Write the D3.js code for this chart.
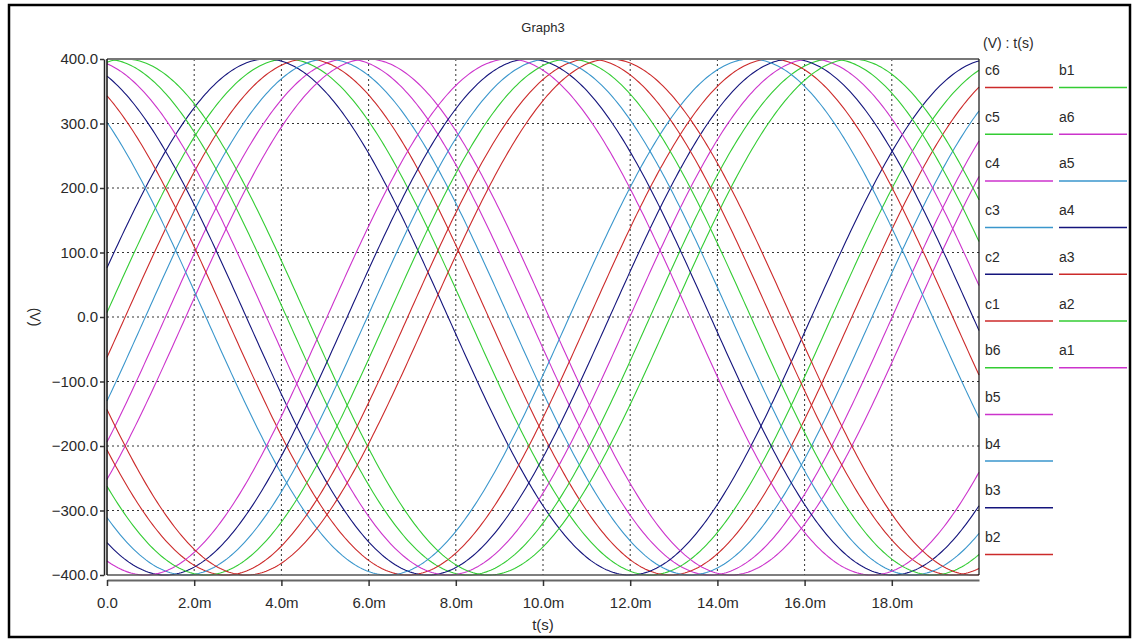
<!DOCTYPE html>
<html>
<head>
<meta charset="utf-8">
<script src="https://cdn.jsdelivr.net/npm/d3@7"></script>
<style>
  body { margin: 0; background: #fff; }
  text { font-family: "Liberation Sans", Arial, sans-serif; fill: #2a2a2a; }
</style>
</head>
<body>
<div id="container"></div>
<script>
// series names in plot order, and the phase (deg at t=0)
var seriesNames = ["a1","a2","a3","a4","a5","a6","b1","b2","b3","b4","b5","b6","c1","c2","c3","c4","c5","c6"];
var seriesPhaseDeg = [331, 1, 351, 11, 341, 321, 91, 121, 111, 131, 101, 81, 211, 241, 231, 251, 221, 201];
var amplitude = 400;   // V
var freqHz = 60;
var xTicks = [0, 0.002, 0.004, 0.006, 0.008, 0.010, 0.012, 0.014, 0.016, 0.018];
var yTicks = [-400, -300, -200, -100, 0, 100, 200, 300, 400];
var palette = ["#cc33cc", "#33cc33", "#cc2a2a", "#14147c", "#3a96cc"];

var W = 1133, H = 640;
var svg = d3.select("#container").append("svg")
            .attr("width", W)
            .attr("height", H);

var x = d3.scaleLinear().domain([0, 0.02]).range([107, 979]);
var y = d3.scaleLinear().domain([-400, 400]).range([575, 59]);
var color = d3.scaleOrdinal().domain(seriesNames).range(palette);

// outer frame
svg.append("rect")
   .attr("x", 9).attr("y", 5)
   .attr("width", 1121).attr("height", 632)
   .attr("fill", "none").attr("stroke", "#000").attr("stroke-width", 2.5);

// grid
svg.append("g").selectAll("line")
   .data(xTicks.filter(function(d) { return d > 0; }))
   .enter().append("line")
   .attr("x1", function(d) { return x(d); }).attr("x2", function(d) { return x(d); })
   .attr("y1", y(400)).attr("y2", y(-400))
   .attr("stroke", "#333").attr("stroke-dasharray", "2,3");
svg.append("g").selectAll("line")
   .data(yTicks.filter(function(d) { return d > -400 && d < 400; }))
   .enter().append("line")
   .attr("x1", x(0)).attr("x2", x(0.02))
   .attr("y1", function(d) { return y(d); }).attr("y2", function(d) { return y(d); })
   .attr("stroke", "#333").attr("stroke-dasharray", "2,3");

// curves
var times = d3.range(0, 0.02 + 1e-9, 0.00005);
var series = seriesNames.map(function(name, i) {
  return { name: name, values: times.map(function(t) {
    return { t: t, v: amplitude * Math.sin(2 * Math.PI * freqHz * t + seriesPhaseDeg[i] * Math.PI / 180) };
  }) };
});
var line = d3.line()
  .x(function(d) { return x(d.t); })
  .y(function(d) { return y(d.v); });
svg.append("g").selectAll("path")
   .data(series)
   .enter().append("path")
   .attr("d", function(d) { return line(d.values); })
   .attr("fill", "none")
   .attr("stroke", function(d) { return color(d.name); })
   .attr("stroke-width", 1.1);

// plot borders
svg.append("line").attr("x1", 107).attr("x2", 979).attr("y1", 59).attr("y2", 59)
   .attr("stroke", "#777").attr("stroke-width", 2);
svg.append("line").attr("x1", 107).attr("x2", 979).attr("y1", 575).attr("y2", 575)
   .attr("stroke", "#555").attr("stroke-width", 1.5);
svg.append("line").attr("x1", 107).attr("x2", 107).attr("y1", 59).attr("y2", 575)
   .attr("stroke", "#111").attr("stroke-width", 1.5);
svg.append("line").attr("x1", 979).attr("x2", 979).attr("y1", 59).attr("y2", 575)
   .attr("stroke", "#111").attr("stroke-width", 1.2);

// axes
var fmtX = function(d) { return d === 0 ? "0.0" : d3.format(".1f")(d * 1000) + "m"; };
var xAxis = svg.append("g")
   .attr("transform", "translate(0,580)")
   .call(d3.axisBottom(x).tickValues(xTicks).tickFormat(fmtX).tickSize(6).tickSizeOuter(0).tickPadding(11));
xAxis.select(".domain").attr("stroke", "#666").attr("stroke-width", 2);
xAxis.selectAll(".tick line").attr("stroke", "#333").attr("stroke-width", 1.5);
xAxis.selectAll("text").style("font-size", "15px").attr("fill", "#2a2a2a");

var yAxis = svg.append("g")
   .attr("transform", "translate(104,0)")
   .call(d3.axisLeft(y).tickValues(yTicks).tickFormat(d3.format(".1f")).tickSize(4).tickSizeOuter(0).tickPadding(2));
yAxis.select(".domain").attr("stroke", "#222").attr("stroke-width", 1.5);
yAxis.selectAll(".tick line").attr("stroke", "#333").attr("stroke-width", 1.5);
yAxis.selectAll("text").style("font-size", "15px").attr("fill", "#2a2a2a");

// titles
svg.append("text").attr("x", 543).attr("y", 32).attr("text-anchor", "middle")
   .style("font-size", "13px").text("Graph3");
svg.append("text").attr("x", 543).attr("y", 630).attr("text-anchor", "middle")
   .style("font-size", "15px").text("t(s)");
svg.append("text").attr("transform", "translate(30,317) rotate(90)").attr("text-anchor", "middle")
   .style("font-size", "14px").text("(V)");
svg.append("text").attr("x", 983).attr("y", 48)
   .style("font-size", "14px").text("(V) : t(s)");

// legend: reverse order, 11 rows in first column
var legendNames = seriesNames.slice().reverse();
var leg = svg.append("g").selectAll("g")
   .data(legendNames)
   .enter().append("g")
   .attr("transform", function(d, i) {
     var col = i < 11 ? 0 : 1, row = i < 11 ? i : i - 11;
     return "translate(" + (col === 0 ? 985 : 1059) + "," + (70 + row * 46.7) + ")";
   });
leg.append("text").attr("y", 5).style("font-size", "14px").text(function(d) { return d; });
leg.append("line").attr("x1", 0).attr("x2", 68).attr("y1", 17.5).attr("y2", 17.5)
   .attr("stroke", function(d) { return color(d); }).attr("stroke-width", 1.5);
</script>
</body>
</html>
